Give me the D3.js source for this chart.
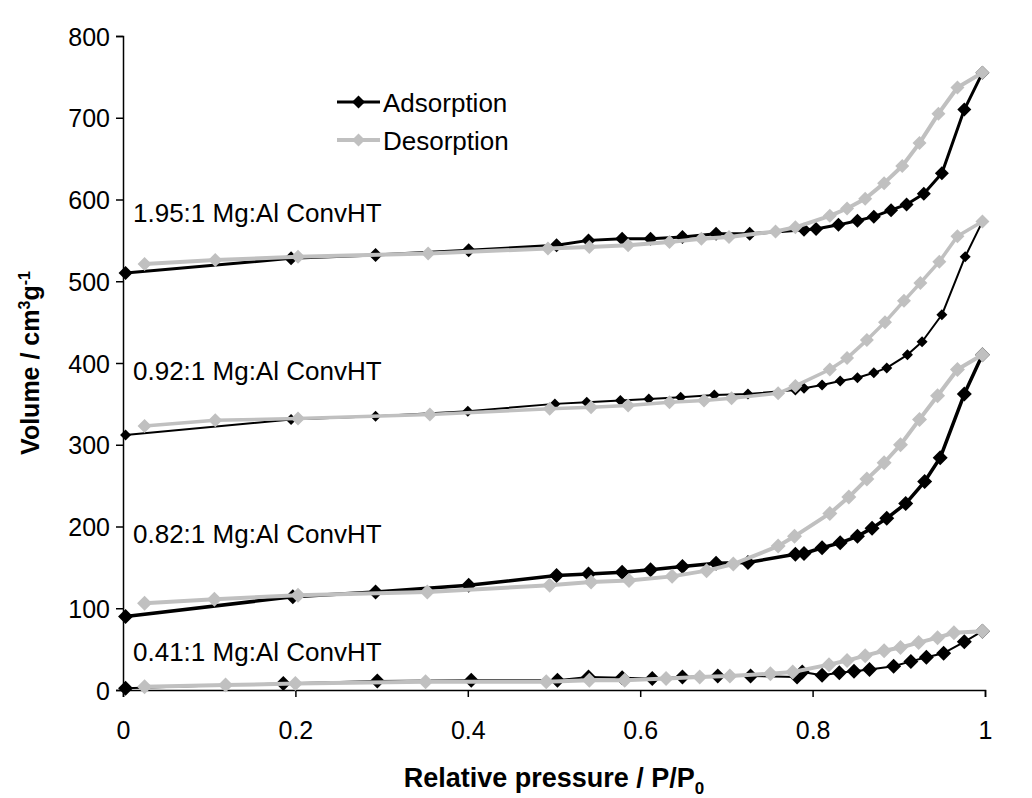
<!DOCTYPE html>
<html>
<head>
<meta charset="utf-8">
<script src="https://cdn.jsdelivr.net/npm/d3@7"></script>
<style>
  html, body { margin: 0; padding: 0; background: #fff; }
  svg { display: block; }
  text { font-family: "Liberation Sans", Arial, sans-serif; fill: #000; }
</style>
</head>
<body>
<svg id="chart" width="1032" height="798"></svg>
<script>
// ---------- data ----------
const xTicks = [0, 0.2, 0.4, 0.6, 0.8, 1];
const xTickLabels = ["0", "0.2", "0.4", "0.6", "0.8", "1"];
const yTicks = [0, 100, 200, 300, 400, 500, 600, 700, 800];
const yTickLabels = ["0", "100", "200", "300", "400", "500", "600", "700", "800"];

const seriesNames = ["1.95:1 Mg:Al ConvHT", "0.92:1 Mg:Al ConvHT", "0.82:1 Mg:Al ConvHT", "0.41:1 Mg:Al ConvHT"];
const seriesLabelY = [572, 379, 180, 36];

const xAds195 = [0.003,0.195,0.293,0.401,0.503,0.540,0.579,0.612,0.649,0.688,0.727,0.790,0.804,0.830,0.852,0.871,0.891,0.909,0.929,0.950,0.976,0.997];
const yAds195 = [510,528,532,538,544,550,552,552,554,558,558,563,564,569,574,579,587,594,607,632,710,755];
const xDes195 = [0.997,0.968,0.946,0.924,0.904,0.883,0.861,0.840,0.820,0.780,0.757,0.703,0.671,0.634,0.586,0.541,0.493,0.354,0.203,0.107,0.025];
const yDes195 = [755,737,705,669,641,620,601,589,580,566,561,554,552,548,544,542,540,534,530,526,521];

const xAds092 = [0.003,0.195,0.293,0.400,0.501,0.538,0.577,0.610,0.647,0.686,0.725,0.780,0.790,0.811,0.832,0.852,0.871,0.886,0.910,0.927,0.950,0.977,0.997];
const yAds092 = [312,331,335,341,350,352,354,356,358,361,362,367,369,373,378,382,388,394,410,426,459,530,573];
const xDes092 = [0.997,0.968,0.947,0.925,0.906,0.884,0.863,0.840,0.820,0.780,0.760,0.706,0.674,0.634,0.586,0.543,0.495,0.356,0.203,0.107,0.025];
const yDes092 = [573,555,524,498,476,450,428,406,392,372,363,357,354,352,348,346,344,337,332,330,323];

const xAds082 = [0.003,0.197,0.293,0.401,0.503,0.540,0.579,0.612,0.649,0.688,0.725,0.780,0.790,0.811,0.832,0.852,0.869,0.886,0.908,0.930,0.948,0.976,0.997];
const yAds082 = [90,114,120,128,140,142,144,147,151,155,156,166,167,174,180,188,198,210,228,255,284,362,410];
const xDes082 = [0.997,0.968,0.945,0.924,0.902,0.883,0.863,0.842,0.820,0.779,0.760,0.708,0.677,0.637,0.587,0.543,0.495,0.353,0.203,0.106,0.025];
const yDes082 = [410,392,360,331,300,278,258,236,216,188,176,154,146,139,134,132,128,120,116,111,106];

const xAds041 = [0.003,0.186,0.295,0.404,0.504,0.540,0.579,0.614,0.649,0.690,0.728,0.782,0.788,0.811,0.831,0.848,0.866,0.894,0.914,0.932,0.952,0.976,0.997];
const yAds041 = [2,8,11,12,12,16,15,14,16,17,17,16,22,18,21,23,25,29,35,40,45,59,72];
const xDes041 = [0.997,0.964,0.945,0.923,0.902,0.883,0.861,0.840,0.819,0.777,0.751,0.704,0.669,0.630,0.582,0.541,0.491,0.351,0.200,0.119,0.025];
const yDes041 = [72,70,64,58,52,48,42,36,31,22,20,17,16,14,12,12,10,10,8,6,4];

const legendNames = ["Adsorption", "Desorption"];

// ---------- layout ----------
const plot = { left: 123, right: 985, top: 36, bottom: 690 };
const BLACK = "#000000", GREY = "#c0c0c0";

const svg = d3.select("#chart");
const x = d3.scaleLinear().domain([0, 1]).range([plot.left, plot.right]);
const y = d3.scaleLinear().domain([0, 800]).range([plot.bottom, plot.top]);

// axes
const xAxis = d3.axisBottom(x).tickValues(xTicks).tickSize(7).tickPadding(24)
  .tickFormat((d, i) => xTickLabels[i]);
const yAxis = d3.axisLeft(y).tickValues(yTicks).tickSize(7).tickPadding(6)
  .tickFormat((d, i) => yTickLabels[i]);

const gx = svg.append("g").attr("transform", `translate(0,${plot.bottom})`).call(xAxis);
const gy = svg.append("g").attr("transform", `translate(${plot.left},0)`).call(yAxis);
[gx, gy].forEach(g => {
  g.select(".domain").attr("stroke", "#000").attr("stroke-width", 1.5);
  g.selectAll(".tick line").attr("stroke", "#000").attr("stroke-width", 1.5);
  g.selectAll(".tick text").attr("font-size", 25).attr("font-family", "Liberation Sans, Arial, sans-serif").attr("fill", "#000");
});
gy.selectAll(".tick text").attr("dy", "0.36em");

// series
const series = [
  { ax: xAds195, ay: yAds195, dx: xDes195, dy: yDes195, aw: 3, ar: 7, dw: 4, dr: 7 },
  { ax: xAds092, ay: yAds092, dx: xDes092, dy: yDes092, aw: 2, ar: 5.5, dw: 3.5, dr: 7 },
  { ax: xAds082, ay: yAds082, dx: xDes082, dy: yDes082, aw: 3.5, ar: 7.5, dw: 4, dr: 7.5 },
  { ax: xAds041, ay: yAds041, dx: xDes041, dy: yDes041, aw: 2, ar: 7.5, dw: 4, dr: 7.5 }
];

const line = d3.line().x(d => x(d[0])).y(d => y(d[1]));
const diamond = r => `M0,${-r}L${r},0L0,${r}L${-r},0Z`;

function drawSeries(xs, ys, color, lw, r) {
  const pts = xs.map((v, i) => [v, ys[i]]);
  const g = svg.append("g");
  g.append("path").datum(pts).attr("d", line).attr("fill", "none")
    .attr("stroke", color).attr("stroke-width", lw).attr("stroke-linejoin", "round");
  g.selectAll("path.m").data(pts).enter().append("path").attr("class", "m")
    .attr("d", diamond(r)).attr("fill", color)
    .attr("transform", d => `translate(${x(d[0])},${y(d[1])})`);
}

series.forEach(s => drawSeries(s.ax, s.ay, BLACK, s.aw, s.ar));
series.forEach(s => drawSeries(s.dx, s.dy, GREY, s.dw, s.dr));

// series labels
seriesNames.forEach((name, i) => {
  svg.append("text").attr("x", 133).attr("y", y(seriesLabelY[i]))
    .attr("font-size", 26).text(name);
});

// legend
const legRows = [{ y: 102, color: BLACK, lw: 3 }, { y: 140, color: GREY, lw: 4 }];
legRows.forEach((r, i) => {
  svg.append("line").attr("x1", 337).attr("x2", 380).attr("y1", r.y).attr("y2", r.y)
    .attr("stroke", r.color).attr("stroke-width", r.lw);
  svg.append("path").attr("d", diamond(6.5)).attr("fill", r.color)
    .attr("transform", `translate(358.5,${r.y})`);
  svg.append("text").attr("x", 383).attr("y", r.y + 9.5).attr("font-size", 26).text(legendNames[i]);
});

// axis titles
const xt = svg.append("text").attr("x", (plot.left + plot.right) / 2).attr("y", 787)
  .attr("text-anchor", "middle").attr("font-size", 27).attr("font-weight", "bold");
xt.append("tspan").text("Relative pressure / P/P");
xt.append("tspan").attr("font-size", 17).attr("dy", 7).text("0");

const yt = svg.append("text").attr("transform", `translate(39,${(plot.top + plot.bottom) / 2}) rotate(-90)`)
  .attr("text-anchor", "middle").attr("font-size", 25).attr("font-weight", "bold");
yt.append("tspan").text("Volume / cm");
yt.append("tspan").attr("font-size", 16).attr("dy", -9).text("3");
yt.append("tspan").attr("dy", 9).text("g");
yt.append("tspan").attr("font-size", 16).attr("dy", -9).text("-1");
</script>
</body>
</html>
